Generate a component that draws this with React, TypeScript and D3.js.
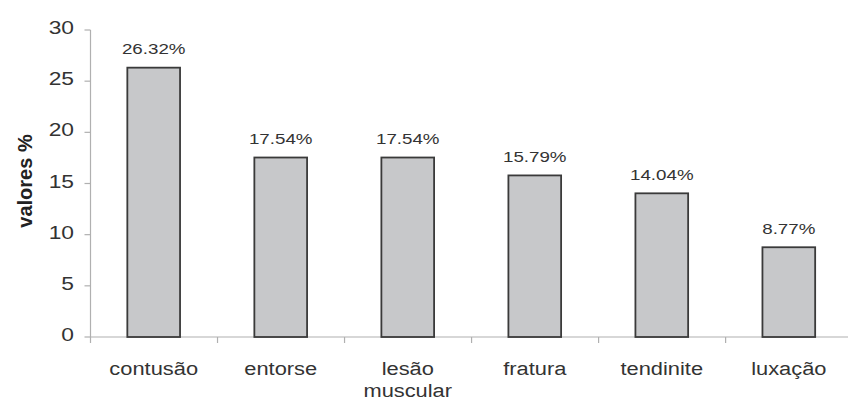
import React from "react";
import * as d3 from "d3";

const categories: string[][] = [["contusão"], ["entorse"], ["lesão", "muscular"], ["fratura"], ["tendinite"], ["luxação"]];
const values: number[] = [26.32, 17.54, 17.54, 15.79, 14.04, 8.77];
const valueLabels: string[] = ["26.32%", "17.54%", "17.54%", "15.79%", "14.04%", "8.77%"];
const yTicks: number[] = [0, 5, 10, 15, 20, 25, 30];
const yTitle = "valores %";

const W = 848;
const H = 405;
const FONT = "'Liberation Sans', Arial, sans-serif";

export default function App() {
  const x = d3
    .scaleBand<number>()
    .domain(categories.map((_, i) => i))
    .range([90.5, 852])
    .paddingInner(0.585)
    .paddingOuter(0.29);
  const step = x.step();
  const y = d3.scaleLinear().domain([0, 30]).range([337, 30]);
  const axisX = 90.5;
  const textCol = "#333";
  const axisCol = "#b0b0b0";
  const bandStart = (i: number) => 90.5 + i * step;

  return (
    <svg width={W} height={H} style={{ position: "absolute", left: 0, top: 0, background: "#fff" }}>
      {/* y axis */}
      <line x1={axisX} x2={axisX} y1={y(30)} y2={y(0)} stroke={axisCol} strokeWidth={1.2} />
      {yTicks.map((t) => (
        <g key={t}>
          <line x1={axisX - 6} x2={axisX} y1={y(t)} y2={y(t)} stroke={axisCol} strokeWidth={1.2} />
          <text
            transform={`translate(${74},${y(t) + 4}) scale(1.2,1)`}
            textAnchor="end"
            fontFamily={FONT}
            fontSize={19}
            fill={textCol}
          >
            {t}
          </text>
        </g>
      ))}
      {/* x axis */}
      <line x1={axisX} x2={W} y1={y(0)} y2={y(0)} stroke={axisCol} strokeWidth={1.2} />
      {categories.map((_, i) => (
        <line
          key={"tk" + i}
          x1={bandStart(i + 1)}
          x2={bandStart(i + 1)}
          y1={y(0)}
          y2={y(0) + 6}
          stroke={axisCol}
          strokeWidth={1.2}
        />
      ))}
      <line x1={axisX} x2={axisX} y1={y(0)} y2={y(0) + 6} stroke={axisCol} strokeWidth={1.2} />
      {/* bars */}
      {values.map((v, i) => (
        <rect
          key={"b" + i}
          x={x(i)!}
          y={y(v)}
          width={x.bandwidth()}
          height={y(0) - y(v)}
          fill="#c7c8ca"
          stroke="#3a3a3a"
          strokeWidth={1.8}
        />
      ))}
      {/* value labels */}
      {values.map((v, i) => (
        <text
          key={"v" + i}
          transform={`translate(${x(i)! + x.bandwidth() / 2},${y(v) - 13.5}) scale(1.25,1)`}
          textAnchor="middle"
          fontFamily={FONT}
          fontSize={15}
          fill={textCol}
        >
          {valueLabels[i]}
        </text>
      ))}
      {/* category labels */}
      {categories.map((lines, i) =>
        lines.map((ln, j) => (
          <text
            key={"c" + i + "-" + j}
            transform={`translate(${x(i)! + x.bandwidth() / 2},${375 + j * 22}) scale(1.15,1)`}
            textAnchor="middle"
            fontFamily={FONT}
            fontSize={19}
            fill={textCol}
          >
            {ln}
          </text>
        ))
      )}
      {/* y title */}
      <text
        transform={`translate(${32},${181}) rotate(-90)`}
        textAnchor="middle"
        fontFamily={FONT}
        fontSize={20}
        fontWeight="bold"
        fill="#222"
      >
        {yTitle}
      </text>
    </svg>
  );
}
